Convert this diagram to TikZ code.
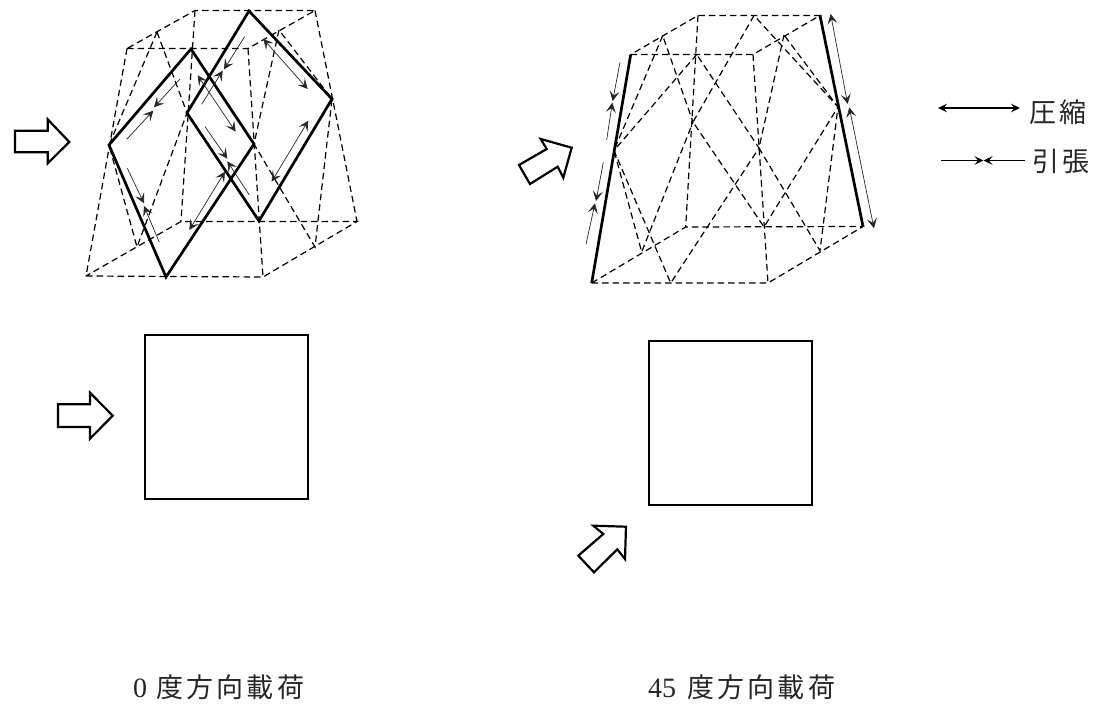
\documentclass[tikz,border=0pt]{standalone}
\usepackage{fontspec}
\usetikzlibrary{arrows.meta}
\newfontfamily\cjkf[LetterSpace=12]{Noto Sans CJK JP}
\newfontfamily\numf{Liberation Serif}
\tikzset{
  x=1pt,y=-1pt,
  dashline/.style={line width=1.2pt,dash pattern=on 6.5pt off 4pt,black},
  thickline/.style={line width=2.7pt,line join=miter,black},
  forcearrow/.style={line width=0.7pt,black!85,{Stealth[length=10pt,width=10pt,inset=4.5pt]}-{Stealth[length=10pt,width=10pt,inset=4.5pt]}},
  onearrow/.style={line width=0.7pt,black!85,-{Stealth[length=10pt,width=10pt,inset=4.5pt]}},
  legendarrow/.style={line width=1.5pt,black},
  blockarrow/.style={line width=2.2pt,line join=miter,black,fill=white},
  squarebox/.style={line width=1.6pt,black},
  label/.style={inner sep=0pt,anchor=base west,text=black!85,font=\fontsize{27}{27}\selectfont\cjkf},
  numlabel/.style={inner sep=0pt,anchor=base west,text=black!85,font=\fontsize{28}{28}\selectfont\numf}
}
\begin{document}
\begin{tikzpicture}
\useasboundingbox (0,0) rectangle (1104,709);
% ---------- left frame ----------
\coordinate (LA) at (86,276);  \coordinate (LB) at (263,277);
\coordinate (LC) at (357,221.5); \coordinate (LD) at (181,221.5);
\coordinate (LE) at (127,48.5); \coordinate (LF) at (248,48.5);
\coordinate (LG) at (315,10.5); \coordinate (LH) at (195,10.5);
\coordinate (Lt1) at (191,49); \coordinate (Ll1) at (109,145);
\coordinate (Lb1) at (166,277); \coordinate (Lr1) at (254,144);
\coordinate (Lt2) at (249,11); \coordinate (Ll2) at (187,113);
\coordinate (Lb2) at (259,221); \coordinate (Lr2) at (332,99);
\coordinate (Lp1) at (157,32); \coordinate (Lq1) at (137,247);
\coordinate (Lp2) at (279,30); \coordinate (Lq2) at (315,247);
\draw[dashline] (LA) -- (LB) -- (LC) -- (LD) -- (LA);
\draw[dashline] (LE) -- (LF) -- (LG) -- (LH) -- (LE);
\draw[dashline] (LE) -- (LA) (LF) -- (LB) (LG) -- (LC) (LH) -- (LD);
\draw[dashline] (Lp1) -- (Ll1) -- (Lq1) -- (Ll2) -- (Lp1);
\draw[dashline] (Lp2) -- (Lr1) -- (Lq2) -- (Lr2) -- (Lp2);
\draw[thickline] (Lt1) -- (Ll1) -- (Lb1) -- (Lr1) -- cycle;
\draw[thickline] (Lt2) -- (Ll2) -- (Lb2) -- (Lr2) -- cycle;
\begin{scope}[shift={(70,0)},x=0.3333pt,y=-0.3333pt]
\draw[onearrow] (170,418) -- (250,332);
\draw[onearrow] (330,237) -- (252,322);
\draw[onearrow] (172,505) -- (222,610);
\draw[onearrow] (268,727) -- (222,618);
\draw[onearrow] (395,313) -- (458,212);
\draw[onearrow] (524,110) -- (462,208);
\draw[forcearrow] (383,226) -- (497,395);
\draw[onearrow] (405,380) -- (472,476);
\draw[onearrow] (538,585) -- (472,484);
\draw[forcearrow] (580,117) -- (713,267);
\draw[forcearrow] (715,362) -- (605,545);
\draw[forcearrow] (465,515) -- (358,690);
\end{scope}
% ---------- right frame ----------
\coordinate (RA) at (591.7,283); \coordinate (RB) at (768,283);
\coordinate (RC) at (863,226.5); \coordinate (RD) at (685.7,227);
\coordinate (RE) at (630.7,54.5); \coordinate (RF) at (753,54.5);
\coordinate (RG) at (820,15.5); \coordinate (RH) at (698,15.5);
\coordinate (Rt1) at (696.7,54.5); \coordinate (Rl1) at (614,150.5);
\coordinate (Rb1) at (670.7,283); \coordinate (Rr1) at (759,148);
\coordinate (Rt2) at (754,15.5); \coordinate (Rl2) at (693,122);
\coordinate (Rb2) at (764,227); \coordinate (Rr2) at (838,107);
\coordinate (Rp1) at (662.7,35.7); \coordinate (Rq1) at (641.7,252);
\coordinate (Rp2) at (784,35); \coordinate (Rq2) at (820,250.7);
\draw[dashline] (RA) -- (RB) -- (RC) -- (RD) -- (RA);
\draw[dashline] (RE) -- (RF) -- (RG) -- (RH) -- (RE);
\draw[dashline] (RF) -- (RB) (RH) -- (RD);
\draw[dashline] (Rt1) -- (Rl1) -- (Rb1) -- (Rr1) -- cycle;
\draw[dashline] (Rt2) -- (Rl2) -- (Rb2) -- (Rr2) -- cycle;
\draw[dashline] (Rp1) -- (Rl1) -- (Rq1) -- (Rl2) -- cycle;
\draw[dashline] (Rp2) -- (Rr1) -- (Rq2) -- (Rr2) -- cycle;
\draw[thickline] (RA) -- (RE);
\draw[thickline] (RC) -- (RG);
\begin{scope}[shift={(570,0)},x=0.3333pt,y=-0.3333pt]
\draw[onearrow] (150,187) -- (128,303);
\draw[onearrow] (110,420) -- (127,308);
\draw[onearrow] (100,487) -- (78,603);
\draw[onearrow] (48,733) -- (75,610);
\draw[forcearrow] (782,42) -- (833,312);
\draw[forcearrow] (838,322) -- (912,685);
\end{scope}
% ---------- block arrows ----------
\draw[blockarrow] (15,130.7) -- (47.7,130.7) -- (47.7,119.3) -- (69.3,142) -- (47.7,163.3) -- (47.7,152.3) -- (15,152.3) -- cycle;
\draw[blockarrow] (58,404.3) -- (90,404.3) -- (90,392.7) -- (112.7,415.7) -- (90,438.7) -- (90,427) -- (58,427) -- cycle;
\draw[blockarrow] (540.7,139) -- (571.7,147.7) -- (563.3,177.7) -- (557.7,166.7) -- (530,184) -- (519,165) -- (546.7,149) -- cycle;
\draw[blockarrow] (593.3,525.7) -- (626,526.7) -- (625,559) -- (617.3,549.3) -- (594,572.3) -- (578.3,555.7) -- (603.3,534) -- cycle;
% ---------- plan squares ----------
\draw[squarebox] (145,335) rectangle (308,499);
\draw[squarebox] (649,341) rectangle (812,505);
% ---------- legend ----------
\coordinate (k1a) at (938,108); \coordinate (k1b) at (1020,108);
\coordinate (k2a) at (941,160.5); \coordinate (k2m) at (983.5,160.5); \coordinate (k2b) at (1025,160.5);
\draw[legendarrow,{Stealth[length=9pt,width=8.5pt,inset=3.5pt]}-{Stealth[length=9pt,width=8.5pt,inset=3.5pt]}] (k1a) -- (k1b);
\draw[legendarrow,-{Stealth[length=9pt,width=8.5pt,inset=3.5pt]}] (k2a) -- (k2m);
\draw[legendarrow,-{Stealth[length=9pt,width=8.5pt,inset=3.5pt]}] (k2b) -- (k2m);
\node[label] (t1) at (1029,122) {圧縮};
\node[label] (t2) at (1032,171) {引張};
% ---------- captions ----------
\node[numlabel] (c0) at (133,697) {0};
\node[label] (c1) at (156,697) {度方向載荷};
\node[numlabel] (c2) at (648,697) {45};
\node[label] (c3) at (687,697) {度方向載荷};
\end{tikzpicture}
\end{document}
